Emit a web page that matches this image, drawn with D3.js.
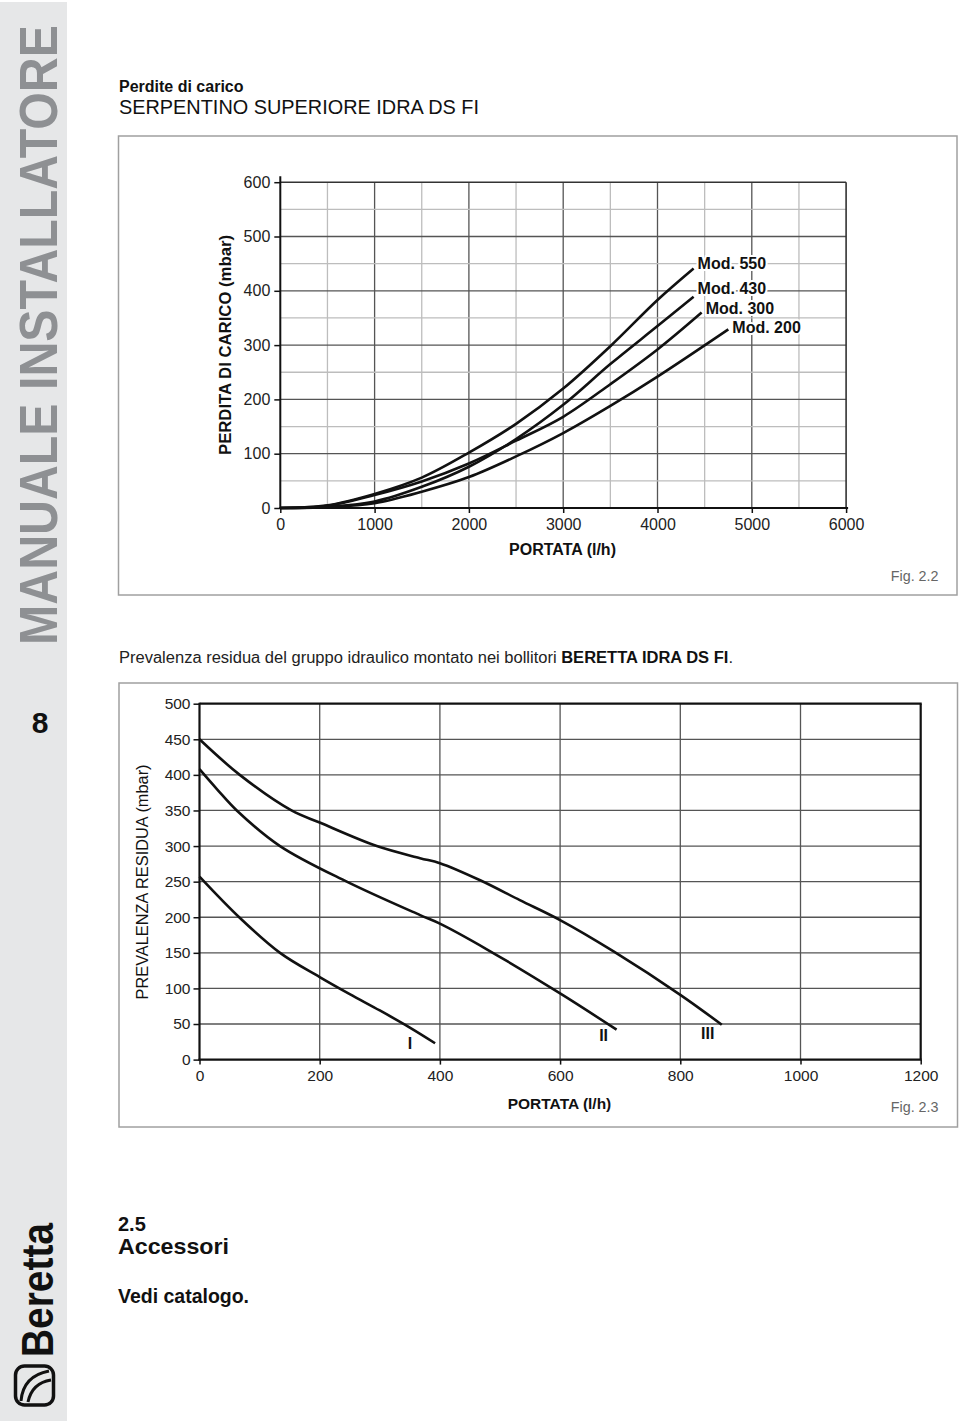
<!DOCTYPE html>
<html>
<head>
<meta charset="utf-8">
<script src="https://cdn.jsdelivr.net/npm/d3@7"></script>
<style>
  html, body { margin: 0; padding: 0; background: #fff; }
  svg { display: block; font-family: "Liberation Sans", Arial, Helvetica, sans-serif; }
</style>
</head>
<body>
<script>
// ---------- DATA ----------
// Fig. 2.2  Perdite di carico (mbar) vs portata (l/h)
const topFlow   = [0, 500, 1000, 1500, 2000, 2500, 3000, 3500, 4000];
const mod550    = [0, 5, 26, 56, 102, 155, 220, 298, 383];
const mod430    = [0, 2, 12, 39, 76, 127, 190, 265, 335];
const mod300    = [0, 4, 24, 49, 82, 124, 168, 228, 292];
const mod200    = [0, 2, 9, 30, 57, 95, 138, 188, 242];
const topNames  = ["Mod. 550", "Mod. 430", "Mod. 300", "Mod. 200"];
const topEndFlow = [4383, 4383, 4468, 4751];
const topEndLoss = [441, 389, 360, 329];
const topFlowTicks = [0, 1000, 2000, 3000, 4000, 5000, 6000];
const topLossTicks = [0, 100, 200, 300, 400, 500, 600];

// Fig. 2.3  Prevalenza residua (mbar) vs portata (l/h)
const flowI   = [0, 66, 134, 200, 250, 300, 350, 392];
const headI   = [257, 200, 150, 116, 92, 69, 45, 23];
const flowII  = [0, 30, 62, 134, 245, 367, 400, 478, 600, 694];
const headII  = [408, 379, 350, 300, 250, 203, 191, 155, 93, 42];
const flowIII = [0, 67, 153, 200, 295, 367, 400, 467, 533, 600, 689, 800, 869];
const headIII = [450, 400, 350, 333, 300, 283, 276, 252, 224, 196, 152, 91, 49];
const botNames = ["I", "II", "III"];
const botFlowTicks = [0, 200, 400, 600, 800, 1000, 1200];
const botHeadTicks = [0, 50, 100, 150, 200, 250, 300, 350, 400, 450, 500];

// ---------- DRAW ----------
const W = 960, H = 1423;
const svg = d3.select("body").append("svg").attr("width", W).attr("height", H);

// side band
svg.append("rect").attr("x", 0).attr("y", 2).attr("width", 67).attr("height", H - 4).attr("fill", "#e6e7e8");
svg.append("text")
  .attr("transform", "translate(57,645) rotate(-90) scale(1,1.15)")
  .attr("font-size", 47).attr("font-weight", "bold").attr("fill", "#8e9093")
  .attr("textLength", 620).attr("lengthAdjust", "spacingAndGlyphs")
  .text("MANUALE INSTALLATORE");
svg.append("text").attr("x", 40).attr("y", 733).attr("text-anchor", "middle")
  .attr("font-size", 30).attr("font-weight", "bold").attr("fill", "#111").text("8");
svg.append("text")
  .attr("transform", "translate(53,1357) rotate(-90) scale(1,1.15)")
  .attr("font-size", 38).attr("font-weight", "bold").attr("fill", "#111")
  .attr("textLength", 134).attr("lengthAdjust", "spacingAndGlyphs")
  .text("Beretta");
// emblem
svg.append("rect").attr("x", 15.5).attr("y", 1366).attr("width", 38).attr("height", 39).attr("rx", 9)
  .attr("fill", "none").attr("stroke", "#111").attr("stroke-width", 3.5);
svg.append("path").attr("d", "M21,1401 Q23,1376 49,1371").attr("fill", "none").attr("stroke", "#111").attr("stroke-width", 3);
svg.append("path").attr("d", "M28,1402 Q32,1383 51,1380").attr("fill", "none").attr("stroke", "#111").attr("stroke-width", 3);

// headings
svg.append("text").attr("x", 119).attr("y", 92).attr("font-size", 16).attr("font-weight", "bold").attr("fill", "#111").text("Perdite di carico");
svg.append("text").attr("x", 119).attr("y", 113.5).attr("font-size", 19.5).attr("fill", "#111")
  .attr("textLength", 360).attr("lengthAdjust", "spacingAndGlyphs").text("SERPENTINO SUPERIORE IDRA DS FI");

// frames
svg.append("rect").attr("x", 118.5).attr("y", 136).attr("width", 838.5).attr("height", 459)
  .attr("fill", "none").attr("stroke", "#a0a0a0").attr("stroke-width", 1.5);
svg.append("rect").attr("x", 119).attr("y", 683).attr("width", 838.5).attr("height", 444)
  .attr("fill", "none").attr("stroke", "#a0a0a0").attr("stroke-width", 1.5);

// ---------- TOP CHART ----------
const xTop = d3.scaleLinear().domain([0, 6000]).range([280.3, 846.1]);
const yTop = d3.scaleLinear().domain([0, 600]).range([508, 182.2]);
const gTop = svg.append("g");

d3.range(500, 6000, 500).forEach(v => {
  gTop.append("line").attr("x1", xTop(v)).attr("x2", xTop(v)).attr("y1", yTop(0)).attr("y2", yTop(600))
    .attr("stroke", v % 1000 === 0 ? "#555" : "#bdbdbd").attr("stroke-width", 1.3);
});
d3.range(50, 600, 50).forEach(v => {
  gTop.append("line").attr("x1", xTop(0)).attr("x2", xTop(6000)).attr("y1", yTop(v)).attr("y2", yTop(v))
    .attr("stroke", v % 100 === 0 ? "#555" : "#bdbdbd").attr("stroke-width", 1.3);
});
gTop.append("line").attr("x1", xTop(0)).attr("x2", xTop(6000)).attr("y1", yTop(600)).attr("y2", yTop(600)).attr("stroke", "#333").attr("stroke-width", 1.6);
gTop.append("line").attr("x1", xTop(6000)).attr("x2", xTop(6000)).attr("y1", yTop(600)).attr("y2", yTop(0)).attr("stroke", "#333").attr("stroke-width", 1.6);

const axTopY = gTop.append("g").attr("transform", `translate(${xTop(0)},0)`)
  .call(d3.axisLeft(yTop).tickValues(topLossTicks).tickSize(6).tickPadding(4).tickFormat(d3.format("d")));
const axTopX = gTop.append("g").attr("transform", `translate(0,${yTop(0)})`)
  .call(d3.axisBottom(xTop).tickValues(topFlowTicks).tickSize(5).tickPadding(6).tickFormat(d3.format("d")));
[axTopY, axTopX].forEach(a => {
  a.select(".domain").remove();
  a.selectAll("line").attr("stroke", "#111").attr("stroke-width", 1.5);
  a.selectAll("text").attr("font-size", 16).attr("fill", "#222").attr("font-family", "Liberation Sans, Arial, sans-serif");
});
gTop.append("line").attr("x1", xTop(0)).attr("x2", xTop(0)).attr("y1", yTop(0) + 1).attr("y2", yTop(600) - 6).attr("stroke", "#111").attr("stroke-width", 2);
gTop.append("line").attr("x1", xTop(0) - 1).attr("x2", xTop(6000) + 2).attr("y1", yTop(0)).attr("y2", yTop(0)).attr("stroke", "#111").attr("stroke-width", 2.2);

const lineTop = d3.line().x(d => xTop(d[0])).y(d => yTop(d[1])).curve(d3.curveCatmullRom.alpha(0.5));
[mod550, mod430, mod300, mod200].forEach((s, i) => {
  const pts = topFlow.map((f, j) => [f, s[j]]);
  pts.push([topEndFlow[i], topEndLoss[i]]);
  gTop.append("path").attr("d", lineTop(pts)).attr("fill", "none").attr("stroke", "#111").attr("stroke-width", 2.6);
});
const labelDy = [0, -3, 1, 4];
topNames.forEach((n, i) => {
  gTop.append("text").attr("x", xTop(topEndFlow[i]) + 4).attr("y", yTop(topEndLoss[i]) + labelDy[i])
    .attr("font-size", 16).attr("font-weight", "bold").attr("fill", "#111")
    .attr("stroke", "#fff").attr("stroke-width", 4).attr("paint-order", "stroke")
    .text(n);
});
gTop.append("text").attr("x", 562.5).attr("y", 555).attr("text-anchor", "middle")
  .attr("font-size", 16).attr("font-weight", "bold").attr("fill", "#111").text("PORTATA (l/h)");
gTop.append("text").attr("transform", "translate(230.5,345) rotate(-90)").attr("text-anchor", "middle")
  .attr("font-size", 16).attr("font-weight", "bold").attr("fill", "#111").attr("textLength", 220).attr("lengthAdjust", "spacingAndGlyphs")
  .text("PERDITA DI CARICO (mbar)");
svg.append("text").attr("x", 938.5).attr("y", 581).attr("text-anchor", "end")
  .attr("font-size", 14.3).attr("fill", "#666").text("Fig. 2.2");

// caption between charts
const cap = svg.append("text").attr("x", 119).attr("y", 663).attr("font-size", 16).attr("fill", "#222")
  .attr("textLength", 614).attr("lengthAdjust", "spacingAndGlyphs");
cap.append("tspan").text("Prevalenza residua del gruppo idraulico montato nei bollitori ");
cap.append("tspan").attr("font-weight", "bold").attr("fill", "#111").text("BERETTA IDRA DS FI");
cap.append("tspan").text(".");

// ---------- BOTTOM CHART ----------
const xBot = d3.scaleLinear().domain([0, 1200]).range([199.5, 920.7]);
const yBot = d3.scaleLinear().domain([0, 500]).range([1059.6, 703.7]);
const gBot = svg.append("g");

d3.range(200, 1200, 200).forEach(v => {
  gBot.append("line").attr("x1", xBot(v)).attr("x2", xBot(v)).attr("y1", yBot(0)).attr("y2", yBot(500))
    .attr("stroke", "#555").attr("stroke-width", 1.3);
});
d3.range(50, 500, 50).forEach(v => {
  gBot.append("line").attr("x1", xBot(0)).attr("x2", xBot(1200)).attr("y1", yBot(v)).attr("y2", yBot(v))
    .attr("stroke", "#555").attr("stroke-width", 1.3);
});
gBot.append("line").attr("x1", xBot(0)).attr("x2", xBot(1200) + 1).attr("y1", yBot(500)).attr("y2", yBot(500)).attr("stroke", "#111").attr("stroke-width", 2.2);
gBot.append("line").attr("x1", xBot(1200)).attr("x2", xBot(1200)).attr("y1", yBot(500)).attr("y2", yBot(0)).attr("stroke", "#111").attr("stroke-width", 2.2);

const axBotY = gBot.append("g").attr("transform", `translate(${xBot(0)},0)`)
  .call(d3.axisLeft(yBot).tickValues(botHeadTicks).tickSize(6).tickPadding(3).tickFormat(d3.format("d")));
const axBotX = gBot.append("g").attr("transform", `translate(0,${yBot(0)})`)
  .call(d3.axisBottom(xBot).tickValues(botFlowTicks).tickSize(5).tickPadding(5).tickFormat(d3.format("d")));
[axBotY, axBotX].forEach(a => {
  a.select(".domain").remove();
  a.selectAll("line").attr("stroke", "#111").attr("stroke-width", 1.5);
  a.selectAll("text").attr("font-size", 15.5).attr("fill", "#222").attr("font-family", "Liberation Sans, Arial, sans-serif");
});
gBot.append("line").attr("x1", xBot(0)).attr("x2", xBot(0)).attr("y1", yBot(0) + 1).attr("y2", yBot(500) - 1).attr("stroke", "#111").attr("stroke-width", 2.2);
gBot.append("line").attr("x1", xBot(0) - 1).attr("x2", xBot(1200) + 1).attr("y1", yBot(0)).attr("y2", yBot(0)).attr("stroke", "#111").attr("stroke-width", 2.2);

const lineBot = d3.line().x(d => xBot(d[0])).y(d => yBot(d[1])).curve(d3.curveCatmullRom.alpha(0.5));
const botSeries = [[flowI, headI], [flowII, headII], [flowIII, headIII]];
const romanDx = [-25, -13, -14], romanDy = [0, 6, 8.5];
botSeries.forEach(([fx, hy], i) => {
  const pts = fx.map((f, j) => [f, hy[j]]);
  gBot.append("path").attr("d", lineBot(pts)).attr("fill", "none").attr("stroke", "#111").attr("stroke-width", 2.6);
  const last = pts[pts.length - 1];
  gBot.append("text").attr("x", xBot(last[0]) + romanDx[i]).attr("y", yBot(last[1]) + romanDy[i]).attr("dy", "0.36em")
    .attr("text-anchor", "middle").attr("font-size", 16).attr("font-weight", "bold").attr("fill", "#111").text(botNames[i]);
});
gBot.append("text").attr("x", 559.5).attr("y", 1109).attr("text-anchor", "middle")
  .attr("font-size", 15.5).attr("font-weight", "bold").attr("fill", "#111").text("PORTATA (l/h)");
gBot.append("text").attr("transform", "translate(148,882) rotate(-90)").attr("text-anchor", "middle")
  .attr("font-size", 16).attr("fill", "#111").attr("textLength", 235).attr("lengthAdjust", "spacingAndGlyphs")
  .text("PREVALENZA RESIDUA (mbar)");
svg.append("text").attr("x", 938.5).attr("y", 1112).attr("text-anchor", "end")
  .attr("font-size", 14.3).attr("fill", "#666").text("Fig. 2.3");

// section text
svg.append("text").attr("x", 118).attr("y", 1230.5).attr("font-size", 20).attr("font-weight", "bold").attr("fill", "#111").text("2.5");
svg.append("text").attr("x", 118).attr("y", 1253.5).attr("font-size", 22).attr("font-weight", "bold").attr("fill", "#111")
  .attr("textLength", 111).attr("lengthAdjust", "spacingAndGlyphs").text("Accessori");
svg.append("text").attr("x", 118).attr("y", 1303).attr("font-size", 19.5).attr("font-weight", "bold").attr("fill", "#111")
  .attr("textLength", 131).attr("lengthAdjust", "spacingAndGlyphs").text("Vedi catalogo.");
</script>
</body>
</html>
